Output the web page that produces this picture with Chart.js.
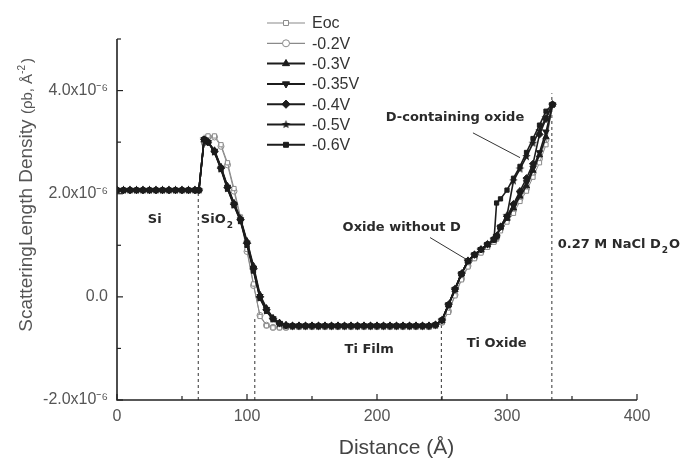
<!DOCTYPE html>
<html><head><meta charset="utf-8">
<script src="https://cdn.jsdelivr.net/npm/chart.js@4.4.1/dist/chart.umd.min.js"></script>
<style>html,body{margin:0;padding:0;background:#fff}#wrap{width:683px;height:460px;position:relative}</style>
</head><body><div id="wrap"><canvas id="c" width="683" height="460"></canvas></div>
<script>
// ---- data (SLD in units of 1e-6 Å^-2) ----
const distance = [0,5,10,15,20,25,30,35,40,45,50,55,60,63,67,70,75,80,85,90,95,100,105,110,115,120,125,130,135,140,145,150,155,160,165,170,175,180,185,190,195,200,205,210,215,220,225,230,235,240,245,250,255,260,265,270,275,280,285,290,292,295,300,305,310,315,320,325,330,335];
const seriesNames = ['Eoc','-0.2V','-0.3V','-0.35V','-0.4V','-0.5V','-0.6V'];
const sldEoc = [2.07,2.07,2.07,2.07,2.07,2.07,2.07,2.07,2.07,2.07,2.07,2.07,2.07,2.07,
  2.98,3.12,3.12,2.95,2.6,2.1,1.55,0.92,0.25,-0.38,-0.56,-0.6,-0.6,-0.6,
  -0.59,-0.59,-0.59,-0.59,-0.59,-0.59,-0.59,-0.59,-0.59,-0.59,-0.59,-0.59,-0.59,-0.59,-0.59,-0.59,-0.59,-0.59,-0.59,-0.59,-0.59,-0.59,
  -0.57,-0.5,-0.3,0.02,0.33,0.58,0.74,0.85,0.96,
  1.06,1.12,1.28,1.45,1.62,1.85,2.05,2.32,2.6,2.95,3.73];
const sldM02 = [2.07,2.07,2.07,2.07,2.07,2.07,2.07,2.07,2.07,2.07,2.07,2.07,2.07,2.07,
  3.0,3.1,3.1,2.92,2.56,2.05,1.5,0.88,0.22,-0.36,-0.55,-0.59,-0.59,-0.59,
  -0.58,-0.58,-0.58,-0.58,-0.58,-0.58,-0.58,-0.58,-0.58,-0.58,-0.58,-0.58,-0.58,-0.58,-0.58,-0.58,-0.58,-0.58,-0.58,-0.58,-0.58,-0.58,
  -0.56,-0.49,-0.28,0.04,0.35,0.6,0.76,0.87,0.98,
  1.08,1.15,1.32,1.5,1.68,1.9,2.1,2.4,2.68,3.05,3.73];
const sldM03 = [2.07,2.07,2.07,2.07,2.07,2.07,2.07,2.07,2.07,2.07,2.07,2.07,2.07,2.07,
  3.04,3.0,2.84,2.52,2.15,1.82,1.52,1.08,0.6,0.04,-0.22,-0.41,-0.5,-0.55,
  -0.56,-0.56,-0.56,-0.56,-0.56,-0.56,-0.56,-0.56,-0.56,-0.56,-0.56,-0.56,-0.56,-0.56,-0.56,-0.56,-0.56,-0.56,-0.56,-0.56,-0.56,-0.56,
  -0.54,-0.46,-0.16,0.14,0.44,0.69,0.81,0.91,1.01,
  1.12,1.18,1.35,1.52,1.72,1.95,2.15,2.45,2.75,3.1,3.73];
const sldM035 = [2.07,2.07,2.07,2.07,2.07,2.07,2.07,2.07,2.07,2.07,2.07,2.07,2.07,2.07,
  3.05,3.0,2.83,2.5,2.13,1.8,1.5,1.05,0.56,0.01,-0.24,-0.42,-0.51,-0.55,
  -0.56,-0.56,-0.56,-0.56,-0.56,-0.56,-0.56,-0.56,-0.56,-0.56,-0.56,-0.56,-0.56,-0.56,-0.56,-0.56,-0.56,-0.56,-0.56,-0.56,-0.56,-0.56,
  -0.54,-0.45,-0.15,0.15,0.45,0.7,0.82,0.92,1.02,
  1.12,1.18,1.36,1.55,1.76,2.0,2.22,2.5,2.8,3.2,3.73];
const sldM04 = [2.07,2.07,2.07,2.07,2.07,2.07,2.07,2.07,2.07,2.07,2.07,2.07,2.07,2.07,
  3.05,3.0,2.82,2.5,2.12,1.8,1.5,1.04,0.55,0.0,-0.25,-0.42,-0.51,-0.55,
  -0.56,-0.56,-0.56,-0.56,-0.56,-0.56,-0.56,-0.56,-0.56,-0.56,-0.56,-0.56,-0.56,-0.56,-0.56,-0.56,-0.56,-0.56,-0.56,-0.56,-0.56,-0.56,
  -0.54,-0.45,-0.15,0.15,0.45,0.7,0.82,0.92,1.02,
  1.12,1.18,1.36,1.56,1.8,2.05,2.3,2.58,3.15,3.45,3.73];
const sldM05 = [2.07,2.07,2.07,2.07,2.07,2.07,2.07,2.07,2.07,2.07,2.07,2.07,2.07,2.07,
  3.06,3.01,2.81,2.48,2.1,1.78,1.48,1.02,0.52,-0.02,-0.27,-0.43,-0.52,-0.56,
  -0.56,-0.56,-0.56,-0.56,-0.56,-0.56,-0.56,-0.56,-0.56,-0.56,-0.56,-0.56,-0.56,-0.56,-0.56,-0.56,-0.56,-0.56,-0.56,-0.56,-0.56,-0.56,
  -0.54,-0.45,-0.15,0.15,0.45,0.7,0.82,0.92,1.02,
  1.12,1.18,1.36,1.58,2.25,2.48,2.72,2.98,3.22,3.48,3.73];
const sldM06 = [2.07,2.07,2.07,2.07,2.07,2.07,2.07,2.07,2.07,2.07,2.07,2.07,2.07,2.07,
  3.06,3.0,2.8,2.47,2.09,1.77,1.46,1.0,0.5,-0.03,-0.28,-0.44,-0.52,-0.56,
  -0.56,-0.56,-0.56,-0.56,-0.56,-0.56,-0.56,-0.56,-0.56,-0.56,-0.56,-0.56,-0.56,-0.56,-0.56,-0.56,-0.56,-0.56,-0.56,-0.56,-0.56,-0.56,
  -0.54,-0.45,-0.15,0.15,0.45,0.7,0.82,0.92,1.02,
  1.1,1.82,1.9,2.07,2.3,2.53,2.8,3.07,3.33,3.6,3.73];
const boundaryX = [62.5, 106, 249.5, 334.5];
const boundaryTop = [2.0, -0.4, -0.5, 3.95];
const xTickValues = [0,100,200,300,400];
const yTickLabels = {'-2':'-2.0x10\u207B\u2076','0':'0.0','2':'2.0x10\u207B\u2076','4':'4.0x10\u207B\u2076'};

// ---- styles ----
const BLACK = '#1c1c1c', GREY = '#8a8a8a';
function starImage(r){
  const c = document.createElement('canvas'); c.width = c.height = 2*r+2;
  const g = c.getContext('2d'); g.fillStyle = BLACK; g.beginPath();
  for (let i=0;i<10;i++){ const a=-Math.PI/2+i*Math.PI/5; const rr=i%2?r*0.42:r; g.lineTo(r+1+rr*Math.cos(a), r+1+rr*Math.sin(a)); }
  g.closePath(); g.fill(); return c;
}
const star = starImage(4.5);
const seriesValues = [sldEoc, sldM02, sldM03, sldM035, sldM04, sldM05, sldM06];
const styles = [
  {ps:'rect', r:3, rot:0, open:true},
  {ps:'circle', r:3, rot:0, open:true},
  {ps:'triangle', r:3.6, rot:0, open:false},
  {ps:'triangle', r:3.6, rot:180, open:false},
  {ps:'rectRot', r:3.6, rot:0, open:false},
  {ps:star, r:4.5, rot:0, open:false},
  {ps:'rect', r:3, rot:0, open:false}
];
const datasets = seriesNames.map((name,i)=>{
  const s = styles[i];
  return {
    label:name, data: distance.map((d,k)=>({x:d, y:seriesValues[i][k]})),
    borderColor: s.open?GREY:BLACK, borderWidth: s.open?1:1.6,
    pointStyle: s.ps, pointRadius: s.r, pointRotation: s.rot,
    pointBackgroundColor: s.open?'#fff':BLACK, pointBorderColor: s.open?GREY:BLACK,
    pointBorderWidth: 1, tension:0, order: s.open?2:1
  };
});
boundaryX.forEach((bx,i)=>{
  datasets.push({label:'b'+i, data:[{x:bx,y:-2},{x:bx,y:boundaryTop[i]}], borderColor:'#333', borderWidth:1,
    borderDash:[3,3], pointRadius:0, order:3});
});

const annotations = [
  {t:'Si', x:29, y:1.5, align:'center'},
  {t:'SiO', sub:'2', x:64.5, y:1.5, align:'left'},
  {t:'Ti Film', x:194, y:-1.03, align:'center'},
  {t:'Ti Oxide', x:292, y:-0.9, align:'center'},
  {t:'Oxide without D', x:219, y:1.34, align:'center'},
  {t:'D-containing oxide', x:260, y:3.48, align:'center'},
  {t:'0.27 M NaCl D', sub:'2', after:'O', x:339, y:1.01, align:'left'}
];
const pointers = [[273.8,3.18,310,2.7],[240.8,1.15,269.2,0.72]];

const deco = {
  id:'deco',
  afterDraw(chart){
    const {ctx, scales:{x,y}} = chart;
    const X=v=>x.getPixelForValue(v), Y=v=>y.getPixelForValue(v);
    ctx.save();
    // axes
    ctx.strokeStyle='#222'; ctx.lineWidth=1.6;
    ctx.beginPath(); ctx.moveTo(X(0),Y(5)); ctx.lineTo(X(0),Y(-2)); ctx.lineTo(X(400),Y(-2)); ctx.stroke();
    ctx.lineWidth=1.2;
    for (let v=-2; v<=5; v++){ const L = (v%2===0)?6:4; ctx.beginPath(); ctx.moveTo(X(0),Y(v)); ctx.lineTo(X(0)+L,Y(v)); ctx.stroke(); }
    for (let v=0; v<=400; v+=50){ const L=(v%100===0)?6:4; ctx.beginPath(); ctx.moveTo(X(v),Y(-2)); ctx.lineTo(X(v),Y(-2)-L); ctx.stroke(); }
    // annotations
    ctx.fillStyle='#2a2a2a'; ctx.textBaseline='middle';
    annotations.forEach(a=>{
      ctx.font='bold 13px "DejaVu Sans"';
      let px=X(a.x), py=Y(a.y);
      ctx.textAlign='left';
      let w=ctx.measureText(a.t).width;
      if (a.align==='center') px -= w/2;
      ctx.fillText(a.t, px, py);
      if (a.sub){
        ctx.font='bold 9px "DejaVu Sans"';
        ctx.fillText(a.sub, px+w+1, py+6);
        const ws=ctx.measureText(a.sub).width;
        if (a.after){ ctx.font='bold 13px "DejaVu Sans"'; ctx.fillText(a.after, px+w+ws+2, py); }
      }
    });
    ctx.strokeStyle='#333'; ctx.lineWidth=1;
    pointers.forEach(p=>{ ctx.beginPath(); ctx.moveTo(X(p[0]),Y(p[1])); ctx.lineTo(X(p[2]),Y(p[3])); ctx.stroke(); });
    // legend
    const lx0=267, lx1=305, lm=286, tx=312; 
    seriesNames.forEach((name,i)=>{
      const ly = 23 + i*20.3; const s=styles[i];
      ctx.strokeStyle = s.open?GREY:BLACK; ctx.lineWidth = s.open?1.2:2;
      ctx.beginPath(); ctx.moveTo(lx0,ly); ctx.lineTo(lx1,ly); ctx.stroke();
      ctx.fillStyle = s.open?'#fff':BLACK; ctx.strokeStyle = s.open?GREY:BLACK; ctx.lineWidth=1;
      Chart.helpers.drawPoint(ctx, {pointStyle:s.ps, radius:s.r+0.5, rotation:s.rot, borderWidth:1}, lm, ly);
      ctx.fillStyle='#333'; ctx.font='16px "Liberation Sans", Arial'; ctx.textAlign='left'; ctx.textBaseline='middle';
      ctx.fillText(name, tx, ly+1);
    });
    // y title
    ctx.save();
    ctx.translate(27, 0); ctx.rotate(-Math.PI/2);
    ctx.fillStyle='#555'; ctx.textBaseline='middle'; ctx.textAlign='left';
    const p1='ScatteringLength Density ', p2='(\u03C1b, \u00C5', p3='-2', p4=')';
    ctx.font='19px "Liberation Sans", Arial'; const w1=ctx.measureText(p1).width;
    ctx.font='15px "Liberation Sans", Arial'; const w2=ctx.measureText(p2).width; const w4=ctx.measureText(p4).width;
    ctx.font='10px "Liberation Sans", Arial'; const w3=ctx.measureText(p3).width;
    const total=w1+w2+w3+w4+2; let sx = -(58+total);
    ctx.font='19px "Liberation Sans", Arial'; ctx.fillText(p1, sx, 0); sx+=w1;
    ctx.font='15px "Liberation Sans", Arial'; ctx.fillText(p2, sx, 1); sx+=w2;
    ctx.font='10px "Liberation Sans", Arial'; ctx.fillText(p3, sx, -5); sx+=w3+2;
    ctx.font='15px "Liberation Sans", Arial'; ctx.fillText(p4, sx, 1);
    ctx.restore();
    // x title
    ctx.fillStyle='#444'; ctx.font='21px "Liberation Sans", Arial'; ctx.textAlign='center'; ctx.textBaseline='middle';
    ctx.fillText('Distance (\u00C5)', X(215), 448);
    ctx.restore();
  }
};

new Chart(document.getElementById('c'), {
  type:'line',
  data:{datasets},
  options:{
    responsive:false, animation:false, devicePixelRatio:1,
    layout:{padding:{left:0,right:46,top:39,bottom:0}},
    plugins:{legend:{display:false}, tooltip:{enabled:false}},
    scales:{
      x:{type:'linear', min:0, max:400, border:{display:false}, grid:{display:false, drawTicks:false},
         afterFit(s){ s.height=60; },
         afterBuildTicks(s){ s.ticks = xTickValues.map(v=>({value:v})); },
         ticks:{padding:7, color:'#555', font:{size:16, family:'"Liberation Sans", Arial'}, maxRotation:0, callback:v=>String(v)}},
      y:{type:'linear', min:-2, max:5, border:{display:false}, grid:{display:false, drawTicks:false},
         afterFit(s){ s.width=117; },
         ticks:{stepSize:1, padding:9, color:'#555', font:{size:16, family:'"Liberation Sans", Arial'},
           callback:v=> (yTickLabels[String(v)]||'')}}
    }
  },
  plugins:[deco]
});
</script></body></html>
